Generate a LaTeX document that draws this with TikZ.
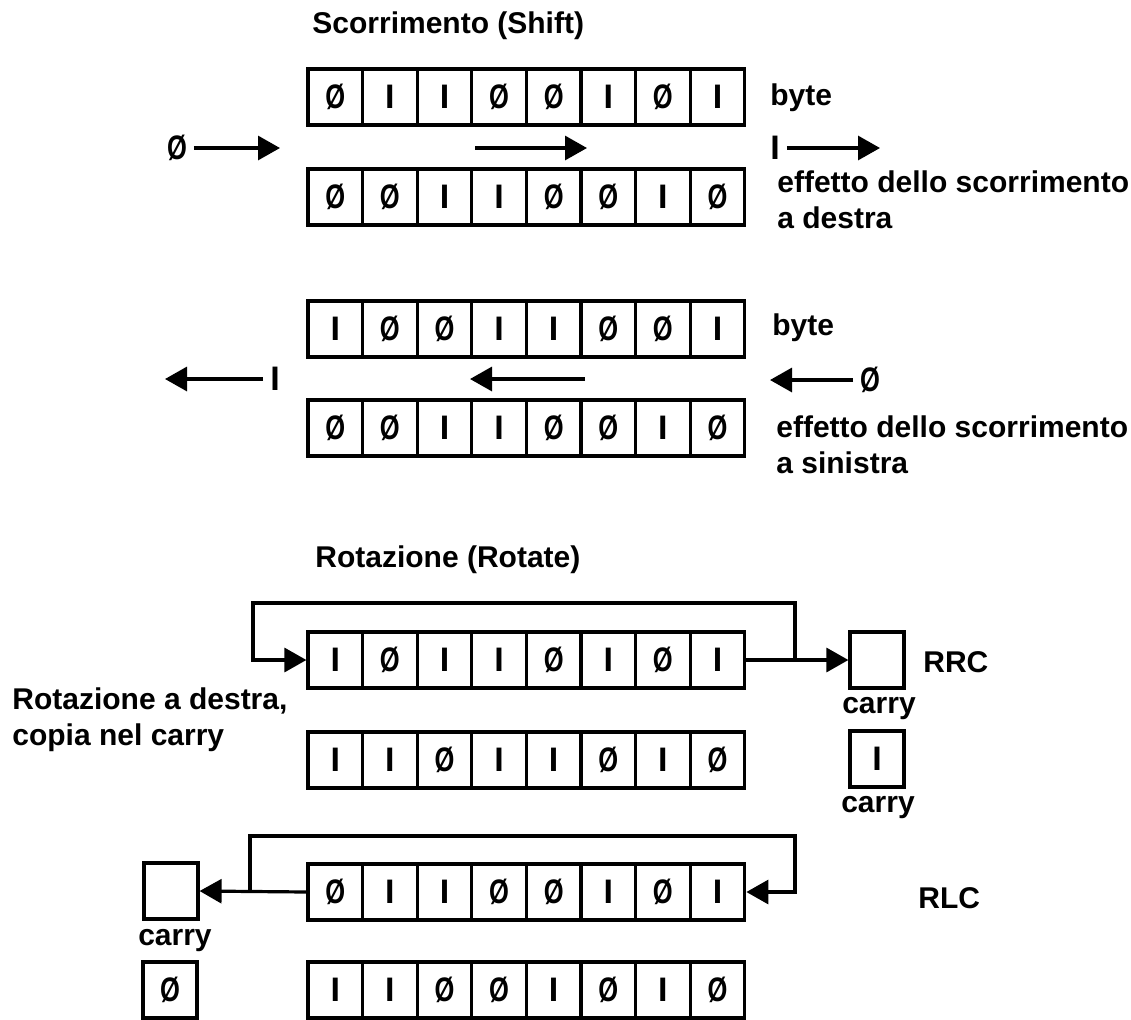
\documentclass[tikz,border=0pt]{standalone}
\usepackage{fontspec}
\setmainfont{Liberation Sans}
\usetikzlibrary{arrows.meta}
\newcommand{\ZB}{\scalebox{0.75}[1]{Ø}}
\newcommand{\BYTErow}[3]{\foreach\b[count=\i] in {#3}{\node[bit] (#1\i) at ({308+54.6*(\i-0.5)},#2) {\b};}}
\tikzset{
  sym/.style={font=\bfseries\fontsize{17}{20}\selectfont},
  bit/.style={sym,draw,line width=1.6pt,minimum width=27.3pt,minimum height=28pt,inner sep=0pt},
  cbox/.style={bit,minimum width=27pt},
  arr/.style={line width=1.6pt,-{Triangle[length=11pt,width=12pt]}},
  txt/.style={inner sep=0pt,align=left}
}
\begin{document}
\begin{tikzpicture}[x=0.5pt,y=-0.5pt,font=\bfseries\fontsize{15}{18}\selectfont]
  \useasboundingbox (0,0) rectangle (1131,1019);
  \node[txt,anchor=base west] (t1) at (312,33) {Scorrimento (Shift)};
  \BYTErow{a}{97}{\ZB,I,I,\ZB,\ZB,I,\ZB,I}
  \BYTErow{b}{197}{\ZB,\ZB,I,I,\ZB,\ZB,I,\ZB}
  \node[txt,anchor=base west] (bya) at (770,105) {byte};
  \node[txt,anchor=base west] (efb) at (777,228) {effetto dello scorrimento\\a destra};
  \node[sym] (ina) at (177,148) {\ZB};
  \node[sym] (outa) at (775,148) {I};
  \coordinate (inae) at (280,148);
  \coordinate (outae) at (880,148);
  \coordinate (ma1) at (475,148);
  \coordinate (ma2) at (587,148);
  \draw[arr] (ina) -- (inae);
  \draw[arr] (ma1) -- (ma2);
  \draw[arr] (outa) -- (outae);

  \BYTErow{c}{329}{I,\ZB,\ZB,I,I,\ZB,\ZB,I}
  \BYTErow{d}{428}{\ZB,\ZB,I,I,\ZB,\ZB,I,\ZB}
  \node[txt,anchor=base west] (byc) at (772,335) {byte};
  \node[txt,anchor=base west] (efd) at (776,473) {effetto dello scorrimento\\a sinistra};
  \node[sym] (outc) at (275,379) {I};
  \node[sym] (inc) at (870,380) {\ZB};
  \coordinate (outce) at (165,379);
  \coordinate (ince) at (770,380);
  \coordinate (mc1) at (585,379);
  \coordinate (mc2) at (470,379);
  \draw[arr] (outc) -- (outce);
  \draw[arr] (mc1) -- (mc2);
  \draw[arr] (inc) -- (ince);

  \node[txt,anchor=base west] (t2) at (315,567) {Rotazione (Rotate)};
  \node[txt,anchor=base west] (rd) at (12,745) {Rotazione a destra,\\copia nel carry};
  \BYTErow{e}{660}{I,\ZB,I,I,\ZB,I,\ZB,I}
  \BYTErow{f}{760}{I,I,\ZB,I,I,\ZB,I,\ZB}
  \node[cbox] (ce) at (877,660) {};
  \node[cbox] (cf) at (877,759) {I};
  \node[txt,anchor=west] (rrc) at (923,662) {RRC};
  \node[txt,anchor=base] (cle) at (879,713) {carry};
  \node[txt,anchor=base] (clf) at (878,812) {carry};
  \coordinate (je) at (795,660);
  \coordinate (lpe) at (253,603);
  \draw[arr] (e8.east) -- (ce.west);
  \draw[arr] (je) |- (lpe) |- (e1.west);

  \BYTErow{g}{892}{\ZB,I,I,\ZB,\ZB,I,\ZB,I}
  \BYTErow{h}{990}{I,I,\ZB,\ZB,I,\ZB,I,\ZB}
  \node[cbox] (cg) at (171,891) {};
  \node[cbox] (ch) at (170,990) {\ZB};
  \node[txt,anchor=base] (clg) at (175,945) {carry};
  \node[txt,anchor=west] (rlc) at (918,898) {RLC};
  \coordinate (jg) at (250,892);
  \coordinate (lpg) at (795,836);
  \draw[arr] (g1.west) -- (cg.east);
  \draw[arr] (jg) |- (lpg) |- (g8.east);
\end{tikzpicture}
\end{document}
